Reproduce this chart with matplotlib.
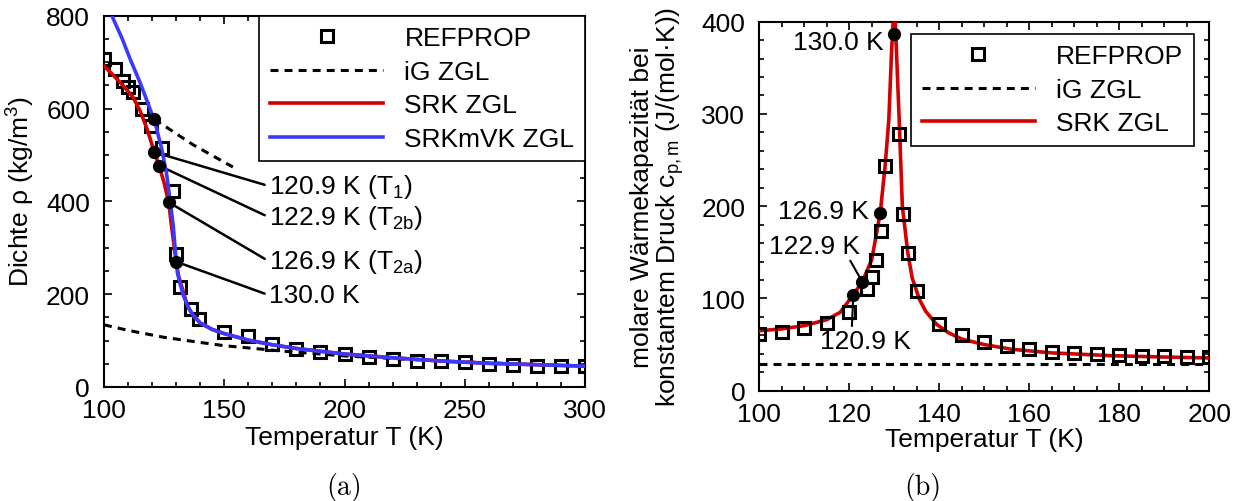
import numpy as np
import matplotlib
matplotlib.use("Agg")
import matplotlib.pyplot as plt
from matplotlib.ticker import MultipleLocator

plt.rcParams["font.family"] = ["Liberation Sans", "DejaVu Sans"]
plt.rcParams["mathtext.fontset"] = "custom"
plt.rcParams["mathtext.rm"] = "Liberation Sans"
plt.rcParams["mathtext.it"] = "Liberation Sans:italic"
plt.rcParams["font.size"] = 19

# === (a) Dichte ===
ref_T = [100, 104.6, 108, 110, 112, 116, 119.5, 124, 128.8, 129.9, 131.5, 136, 139.5,
         150, 160, 170, 180, 190, 200, 210, 220, 230, 240, 250, 260, 270, 280, 290, 300]
ref_rho = [707, 685, 660, 646, 635, 600, 562, 514, 423, 287, 215, 168, 147,
           118, 109, 93, 82, 75, 71, 64, 60, 57, 57, 53, 49, 47, 45, 45, 45]

ig_T = [100, 110, 125, 140, 150, 175, 200, 225, 250, 275, 300]
ig_rho = [134, 122, 107, 96, 89, 77, 67, 60, 54, 49, 45]
ig2_T = [120.9, 137, 153.6]
ig2_rho = [577, 522, 474]

srk_T = [100, 104, 108, 112, 115, 118, 120.9, 122.9, 125, 126.9, 128, 129, 130, 131, 132,
         133, 134, 135, 137, 140, 145, 150, 160, 170, 180, 190, 200, 220, 240, 260, 280, 300]
srk_rho = [692, 671, 649, 625, 595, 555, 506, 477, 440, 398, 350, 310, 270, 240, 222,
           205, 187, 172, 155, 138, 124, 115, 101, 91, 83, 77, 71, 63, 56, 51, 48, 45]

mvk_T = [100, 103.7, 107.6, 111, 115, 118, 121.2, 124, 126, 127.4, 128.8, 129.7, 130.5,
         131.5, 132.3, 133, 135, 137, 140, 145, 150, 160, 170, 180, 190, 200, 220, 240,
         260, 280, 300]
mvk_rho = [840, 795, 750, 705, 656, 615, 570, 513, 460, 405, 347, 290, 247,
           225, 210, 197, 172, 155, 138, 124, 115, 101, 91, 83, 77, 71, 63, 56,
           51, 48, 45]

pts_a_T = [120.9, 120.9, 122.9, 126.9, 130.0]
pts_a_rho = [577, 506, 477, 398, 270]
lab_a = ["120.9 K (T$_\\mathrm{1}$)", "122.9 K (T$_\\mathrm{2b}$)",
         "126.9 K (T$_\\mathrm{2a}$)", "130.0 K"]
lab_a_rho = [433, 366, 271, 198]

# === (b) Waermekapazitaet ===
ref_cp_T = [100, 105, 110, 115, 120, 124, 125, 126, 127, 128, 131, 132, 133, 135,
            140, 145, 150, 155, 160, 165, 170, 175, 180, 185, 190, 195, 200]
ref_cp = [61.5, 64, 67.6, 73.4, 85.6, 110, 123, 142, 173, 244, 278, 192, 149, 108,
          72, 60, 52.5, 48, 45, 42, 40.5, 40, 38.7, 38, 38, 37, 36]

ig_cp_T = [100, 200]
ig_cp = [29, 29]

srk_cp_T = [100, 105, 110, 115, 118, 120.9, 122.9, 125, 126.9, 128, 128.8, 129.4, 129.8,
            130.0, 130.2, 130.5, 131.1, 131.8, 133, 134, 135.6, 137, 139.4, 142, 145,
            150, 156, 165, 178, 190, 200]
srk_cp = [65, 67, 70.5, 77, 85, 104, 118, 142, 193, 245, 294, 367, 403,
          440, 403, 367, 294, 200, 150, 122, 99, 86, 72, 63, 56,
          50, 45, 41, 38, 36.5, 35.5]

pts_b_T = [120.9, 122.9, 126.9, 130.0]
pts_b_cp = [104, 118, 193, 387]

red = "#d40000"
blue = "#3a3aff"

fig = plt.figure(figsize=(12.41, 5.02), dpi=100)
ax1 = fig.add_axes([0.0838, 0.2271, 0.3876, 0.7396])
ax2 = fig.add_axes([0.6118, 0.2197, 0.3626, 0.7351])

sq = dict(ls="none", marker="s", ms=8, mfc="none", mec="black", mew=2.2)
dash = dict(color="black", lw=2.2, ls=(0, (2.6, 2.0)))
leg = dict(fancybox=False, edgecolor="black", framealpha=1, handlelength=4.3,
           handletextpad=0.8, labelspacing=0.36, borderpad=0.4, numpoints=1)

ax1.plot(ref_T, ref_rho, label="REFPROP", zorder=2, **sq)
ax1.plot(ig_T, ig_rho, label="iG ZGL", zorder=3, **dash)
ax1.plot(ig2_T, ig2_rho, zorder=3, **dash)
ax1.plot(srk_T, srk_rho, color=red, lw=2.6, label="SRK ZGL", zorder=3)
ax1.plot(mvk_T, mvk_rho, color=blue, lw=2.6, label="SRKmVK ZGL", zorder=4)
ax1.plot(pts_a_T, pts_a_rho, "o", color="black", ms=8.5, zorder=5)

for i, txt in enumerate(lab_a):
    ax1.annotate(txt, xy=(pts_a_T[i + 1], pts_a_rho[i + 1]), xytext=(168.5, lab_a_rho[i]),
                 ha="left", va="center",
                 arrowprops=dict(arrowstyle="-", color="black", lw=1.8,
                                 shrinkA=1, shrinkB=0, relpos=(0, 0.5)))

ax1.set_xlim(100, 300)
ax1.set_ylim(0, 800)
ax1.xaxis.set_major_locator(MultipleLocator(50))
ax1.xaxis.set_minor_locator(MultipleLocator(10))
ax1.yaxis.set_major_locator(MultipleLocator(200))
ax1.yaxis.set_minor_locator(MultipleLocator(50))
ax1.set_xlabel("Temperatur T (K)", labelpad=2)
ax1.set_ylabel("Dichte ρ (kg/m$^\\mathrm{3}$)")
ax1.yaxis.set_label_coords(-0.14, 0.53)
ax1.legend(loc="upper right", borderaxespad=0, **leg).get_frame().set_linewidth(1.2)

ax2.plot(ref_cp_T, ref_cp, label="REFPROP", zorder=4, **sq)
ax2.plot(ig_cp_T, ig_cp, label="iG ZGL", zorder=3, **dash)
ax2.plot(srk_cp_T, srk_cp, color=red, lw=2.6, label="SRK ZGL", zorder=3)
ax2.plot(pts_b_T, pts_b_cp, "o", color="black", ms=8.5, zorder=5)

ax2.text(127.6, 378, "130.0 K", ha="right", va="center")
ax2.text(124.4, 195, "126.9 K", ha="right", va="center")
ax2.annotate("122.9 K", xy=(122.9, 118), xytext=(122.3, 157), ha="right", va="center",
             arrowprops=dict(arrowstyle="-", color="black", lw=1.5, shrinkA=0, shrinkB=0,
                             relpos=(0.88, 0)))
ax2.annotate("120.9 K", xy=(120.9, 104), xytext=(113.5, 54), ha="left", va="center",
             arrowprops=dict(arrowstyle="-", color="black", lw=1.5, shrinkA=0, shrinkB=0,
                             relpos=(0.35, 1)))

ax2.set_xlim(100, 200)
ax2.set_ylim(0, 400)
ax2.xaxis.set_major_locator(MultipleLocator(20))
ax2.xaxis.set_minor_locator(MultipleLocator(5))
ax2.yaxis.set_major_locator(MultipleLocator(100))
ax2.yaxis.set_minor_locator(MultipleLocator(20))
ax2.set_xlabel("Temperatur T (K)", labelpad=1)
ax2.set_ylabel("molare Wärmekapazität bei\nkonstantem Druck c$_\\mathrm{p,m}$ (J/(mol·K))",
               linespacing=1.0)
ax2.yaxis.set_label_coords(-0.163, 0.5)
ax2.legend(loc="upper right", bbox_to_anchor=(0.966, 0.967), borderaxespad=0,
           **leg).get_frame().set_linewidth(1.2)

for ax in (ax1, ax2):
    for s in ax.spines.values():
        s.set_linewidth(1.5)
    ax.tick_params(which="both", direction="in", top=True, right=True, width=1.2)
    ax.tick_params(which="major", length=6)
    ax.tick_params(which="minor", length=3.5)
    ax.tick_params(axis="x", which="major", pad=8)
    ax.tick_params(axis="y", which="major", pad=10)

fig.text(0.2776, 0.028, "(a)", ha="center", va="center", fontsize=20, family="cmr10")
fig.text(0.7437, 0.028, "(b)", ha="center", va="center", fontsize=20, family="cmr10")

fig.savefig("out.png", dpi=100)
